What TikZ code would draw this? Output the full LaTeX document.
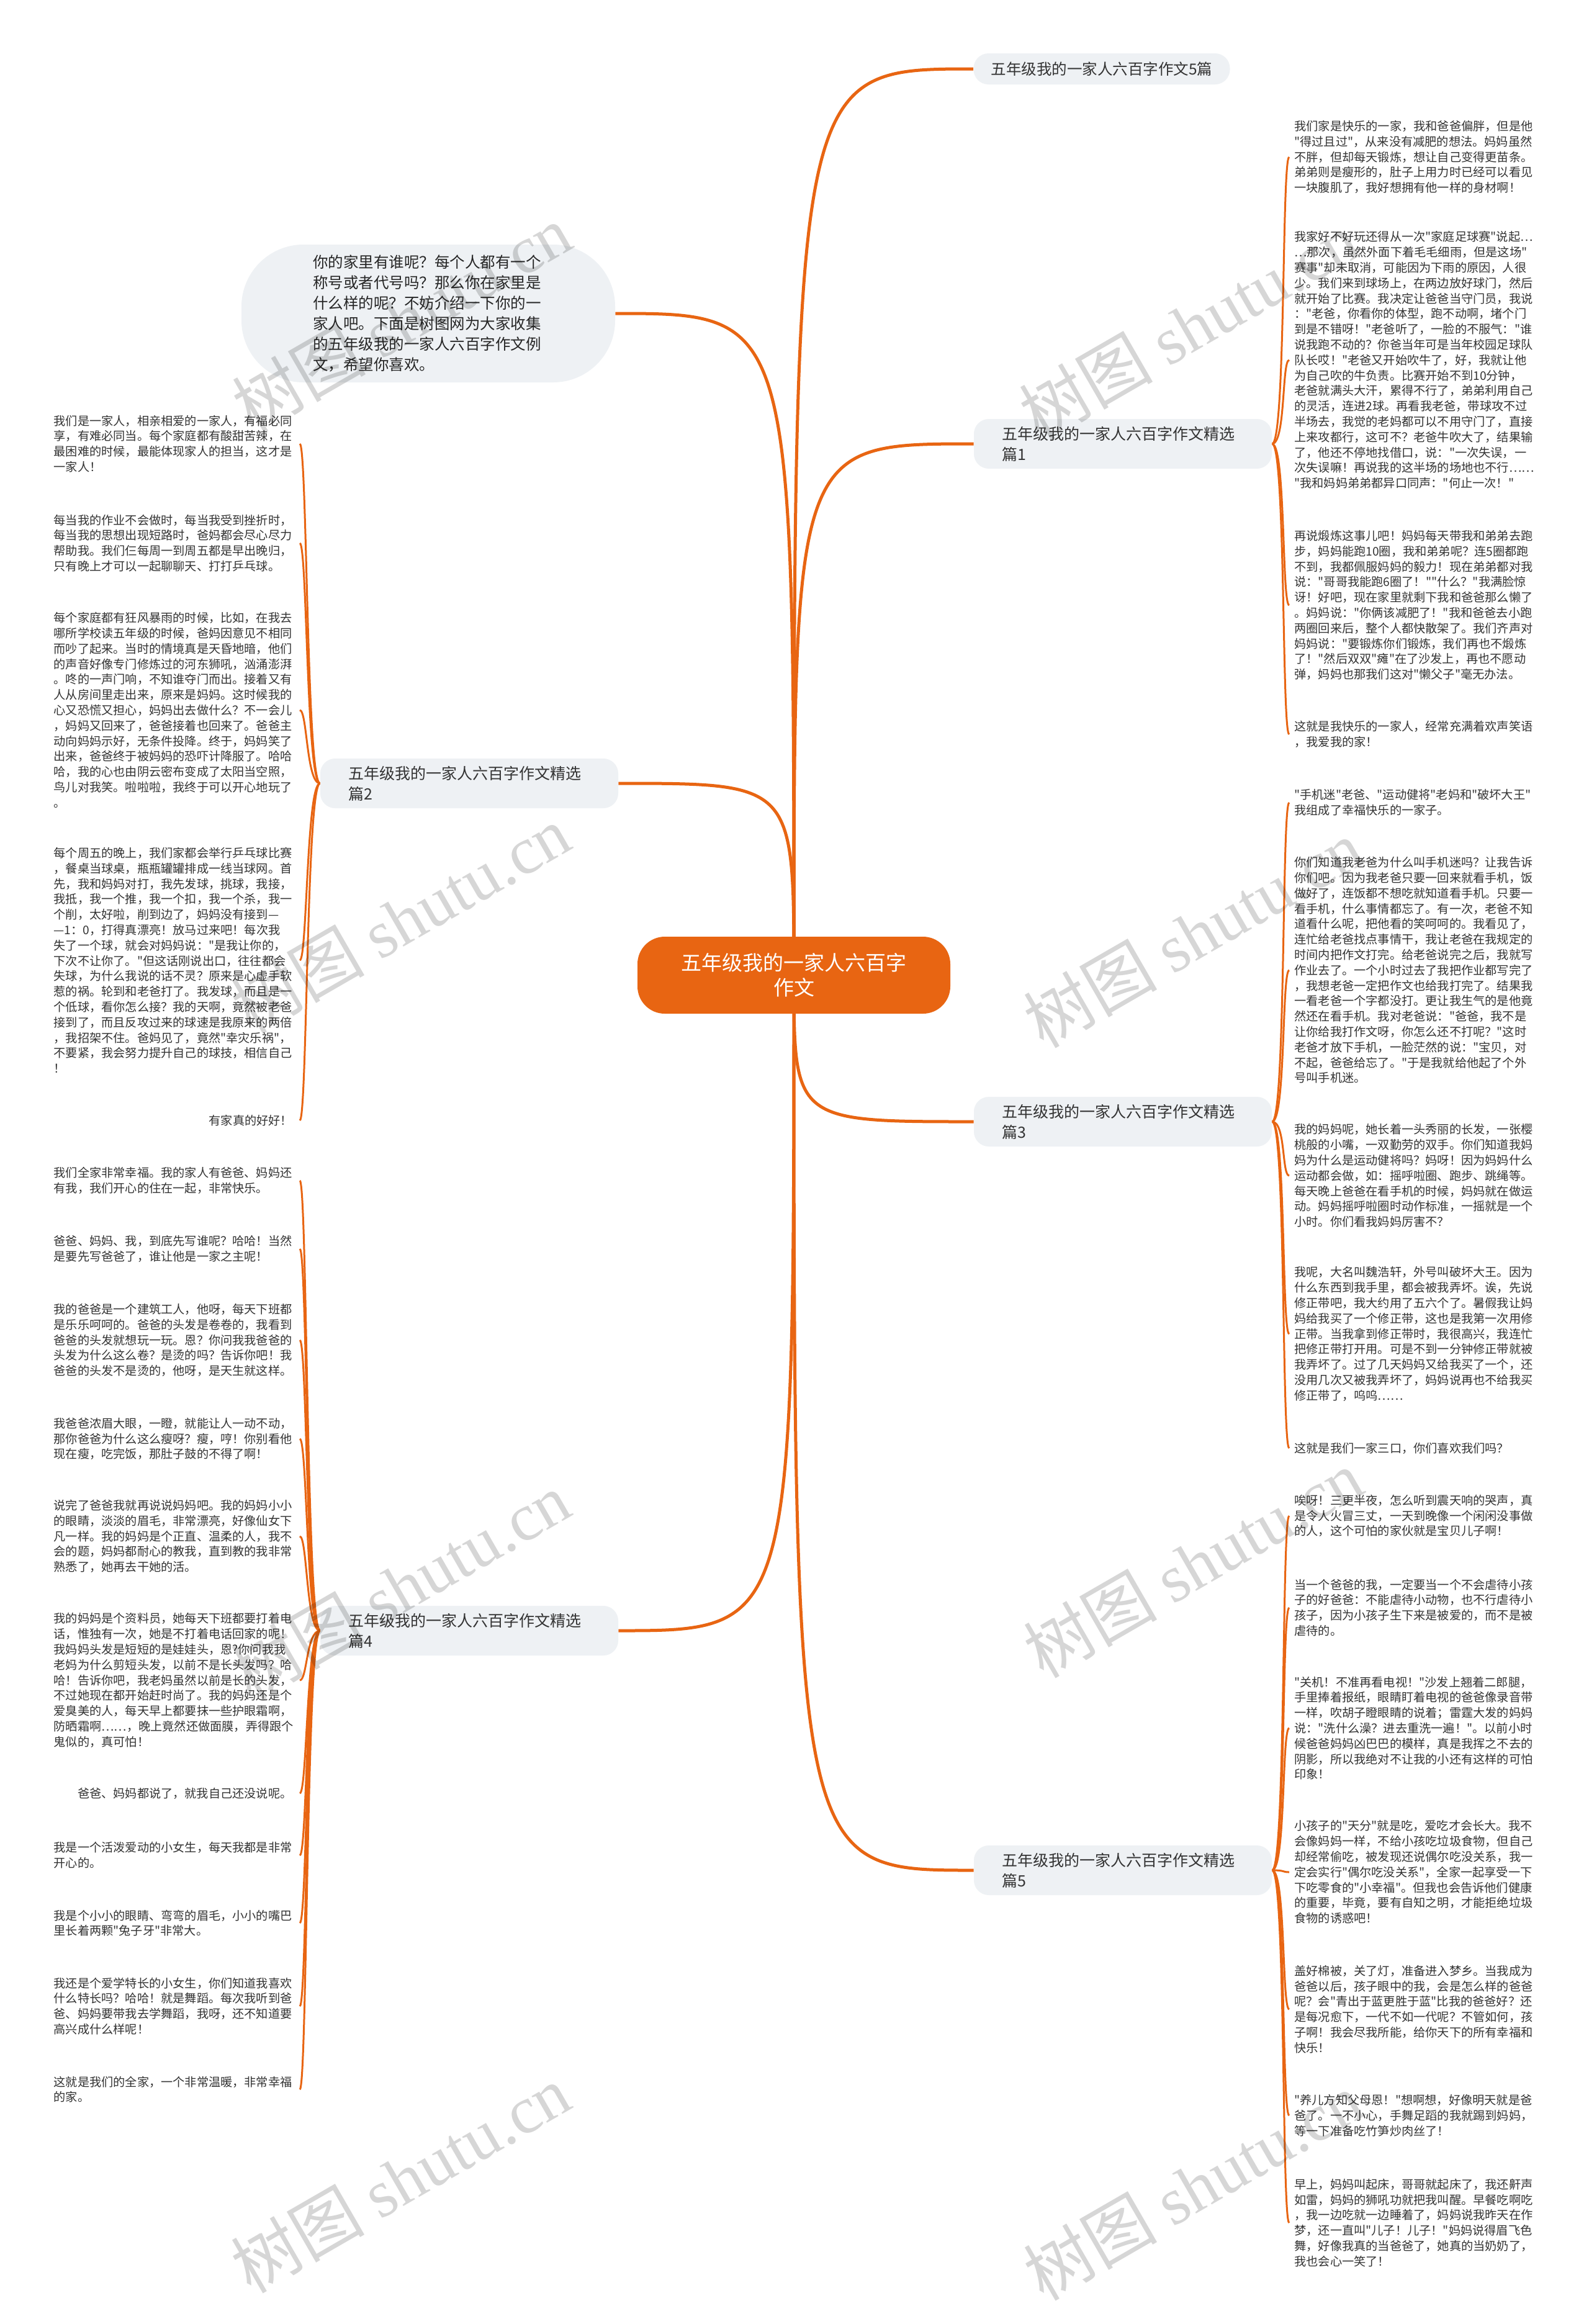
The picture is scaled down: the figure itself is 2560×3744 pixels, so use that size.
\documentclass[tikz,border=0pt]{standalone}
\usepackage{fontspec}
\setmainfont{Noto Sans CJK SC}[Ligatures=TeXOff]
\newfontfamily\wmlatin{Liberation Serif}
\usetikzlibrary{backgrounds}
\definecolor{org}{RGB}{232,101,18}
\definecolor{bub}{HTML}{EEF1F4}
\definecolor{txt}{HTML}{333333}
\tikzset{
  leaf/.style={font=\fontsize{9.6pt}{12.4pt}\selectfont, text=txt, align=left, text width=194pt, inner xsep=4pt, inner ysep=2pt},
  rleaf/.style={leaf, anchor=west},
  lleaf/.style={leaf, anchor=east},
  branch/.style={fill=bub, rounded corners=12pt, font=\fontsize{12.5pt}{16.5pt}\selectfont, text=txt, align=left, text width=195pt, inner xsep=22.5pt, minimum height=40pt},
  branchone/.style={fill=bub, rounded corners=12pt, font=\fontsize{12.25pt}{16pt}\selectfont, text=txt, minimum width=206.5pt, minimum height=25pt, inner xsep=14pt},
  centre/.style={fill=org, text=white, font=\fontsize{16.5pt}{20pt}\selectfont, align=center, minimum width=252pt, minimum height=62pt, rounded corners=22pt},
  bubble/.style={fill=bub, rounded corners=50pt, font=\fontsize{12.25pt}{16.5pt}\selectfont, text=black!85, align=left, text width=186pt, minimum width=301pt, minimum height=111pt},
  mainline/.style={draw=org, line width=2.5pt},
  leafline/.style={draw=org, line width=1.5pt},
  wm/.style={text=black, text opacity=0.16, rotate=30, font=\fontsize{54pt}{60pt}\selectfont, inner sep=0pt}
}
\begin{document}
\begin{tikzpicture}[x=0.5pt,y=-0.5pt]
\useasboundingbox (0,0) rectangle (2560,3744);

% centre and intro
\node[centre] (c) at (1279,1571) {五年级我的一家人六百字\\作文};
\node[bubble] (intro) at (690,505) {你的家里有谁呢？每个人都有一个\\称号或者代号吗？那么你在家里是\\什么样的呢？不妨介绍一下你的一\\家人吧。下面是树图网为大家收集\\的五年级我的一家人六百字作文例\\文，希望你喜欢。};

% branches
\node[branchone] (b0) at (1775,111) {五年级我的一家人六百字作文5篇};
\node[branch] (b1) at (1809,715) {五年级我的一家人六百字作文精选\\篇1};
\node[branch] (b3) at (1809,1807) {五年级我的一家人六百字作文精选\\篇3};
\node[branch] (b5) at (1809,3013) {五年级我的一家人六百字作文精选\\篇5};
\node[branch] (b2) at (756,1262) {五年级我的一家人六百字作文精选\\篇2};
\node[branch] (b4) at (756,2627) {五年级我的一家人六百字作文精选\\篇4};

% leaves of 1
\node[rleaf] (r1a) at (2077,253) {我们家是快乐的一家，我和爸爸偏胖，但是他\\"得过且过"，从来没有减肥的想法。妈妈虽然\\不胖，但却每天锻炼，想让自己变得更苗条。\\弟弟则是瘦形的，肚子上用力时已经可以看见\\一块腹肌了，我好想拥有他一样的身材啊！};
\node[rleaf] (r1b) at (2077,580) {我家好不好玩还得从一次"家庭足球赛"说起…\\…那次，虽然外面下着毛毛细雨，但是这场"\\赛事"却未取消，可能因为下雨的原因，人很\\少。我们来到球场上，在两边放好球门，然后\\就开始了比赛。我决定让爸爸当守门员，我说\\："老爸，你看你的体型，跑不动啊，堵个门\\到是不错呀！"老爸听了，一脸的不服气："谁\\说我跑不动的？你爸当年可是当年校园足球队\\队长哎！"老爸又开始吹牛了，好，我就让他\\为自己吹的牛负责。比赛开始不到10分钟，\\老爸就满头大汗，累得不行了，弟弟利用自己\\的灵活，连进2球。再看我老爸，带球攻不过\\半场去，我觉的老妈都可以不用守门了，直接\\上来攻都行，这可不？老爸牛吹大了，结果输\\了，他还不停地找借口，说："一次失误，一\\次失误嘛！再说我的这半场的场地也不行……\\"我和妈妈弟弟都异口同声："何止一次！"};
\node[rleaf] (r1c) at (2077,975) {再说煅炼这事儿吧！妈妈每天带我和弟弟去跑\\步，妈妈能跑10圈，我和弟弟呢？连5圈都跑\\不到，我都佩服妈妈的毅力！现在弟弟都对我\\说："哥哥我能跑6圈了！""什么？"我满脸惊\\讶！好吧，现在家里就剩下我和爸爸那么懒了\\。妈妈说："你俩该减肥了！"我和爸爸去小跑\\两圈回来后，整个人都快散架了。我们齐声对\\妈妈说："要锻炼你们锻炼，我们再也不煅炼\\了！"然后双双"瘫"在了沙发上，再也不愿动\\弹，妈妈也那我们这对"懒父子"毫无办法。};
\node[rleaf] (r1d) at (2077,1183) {这就是我快乐的一家人，经常充满着欢声笑语\\，我爱我的家！};

% leaves of 3
\node[rleaf] (r3a) at (2077,1293) {"手机迷"老爸、"运动健将"老妈和"破坏大王"\\我组成了幸福快乐的一家子。};
\node[rleaf] (r3b) at (2077,1563) {你们知道我老爸为什么叫手机迷吗？让我告诉\\你们吧。因为我老爸只要一回来就看手机，饭\\做好了，连饭都不想吃就知道看手机。只要一\\看手机，什么事情都忘了。有一次，老爸不知\\道看什么呢，把他看的笑呵呵的。我看见了，\\连忙给老爸找点事情干，我让老爸在我规定的\\时间内把作文打完。给老爸说完之后，我就写\\作业去了。一个小时过去了我把作业都写完了\\，我想老爸一定把作文也给我打完了。结果我\\一看老爸一个字都没打。更让我生气的是他竟\\然还在看手机。我对老爸说："爸爸，我不是\\让你给我打作文呀，你怎么还不打呢？"这时\\老爸才放下手机，一脸茫然的说："宝贝，对\\不起，爸爸给忘了。"于是我就给他起了个外\\号叫手机迷。};
\node[rleaf] (r3c) at (2077,1894) {我的妈妈呢，她长着一头秀丽的长发，一张樱\\桃般的小嘴，一双勤劳的双手。你们知道我妈\\妈为什么是运动健将吗？妈呀！因为妈妈什么\\运动都会做，如：摇呼啦圈、跑步、跳绳等。\\每天晚上爸爸在看手机的时候，妈妈就在做运\\动。妈妈摇呼啦圈时动作标准，一摇就是一个\\小时。你们看我妈妈厉害不？};
\node[rleaf] (r3d) at (2077,2149) {我呢，大名叫魏浩轩，外号叫破坏大王。因为\\什么东西到我手里，都会被我弄坏。诶，先说\\修正带吧，我大约用了五六个了。暑假我让妈\\妈给我买了一个修正带，这也是我第一次用修\\正带。当我拿到修正带时，我很高兴，我连忙\\把修正带打开用。可是不到一分钟修正带就被\\我弄坏了。过了几天妈妈又给我买了一个，还\\没用几次又被我弄坏了，妈妈说再也不给我买\\修正带了，呜呜……};
\node[rleaf] (r3e) at (2077,2333) {这就是我们一家三口，你们喜欢我们吗？};

% leaves of 5
\node[rleaf] (r5a) at (2077,2442) {唉呀！三更半夜，怎么听到震天响的哭声，真\\是令人火冒三丈，一天到晚像一个闲闲没事做\\的人，这个可怕的家伙就是宝贝儿子啊！};
\node[rleaf] (r5b) at (2077,2590) {当一个爸爸的我，一定要当一个不会虐待小孩\\子的好爸爸：不能虐待小动物，也不行虐待小\\孩子，因为小孩子生下来是被爱的，而不是被\\虐待的。};
\node[rleaf] (r5c) at (2077,2784) {"关机！不准再看电视！"沙发上翘着二郎腿，\\手里捧着报纸，眼睛盯着电视的爸爸像录音带\\一样，吹胡子瞪眼睛的说着；雷霆大发的妈妈\\说："洗什么澡？进去重洗一遍！"。以前小时\\候爸爸妈妈凶巴巴的模样，真是我挥之不去的\\阴影，所以我绝对不让我的小还有这样的可怕\\印象！};
\node[rleaf] (r5d) at (2077,3016) {小孩子的"天分"就是吃，爱吃才会长大。我不\\会像妈妈一样，不给小孩吃垃圾食物，但自己\\却经常偷吃，被发现还说偶尔吃没关系，我一\\定会实行"偶尔吃没关系"，全家一起享受一下\\下吃零食的"小幸福"。但我也会告诉他们健康\\的重要，毕竟，要有自知之明，才能拒绝垃圾\\食物的诱惑吧！};
\node[rleaf] (r5e) at (2077,3237) {盖好棉被，关了灯，准备进入梦乡。当我成为\\爸爸以后，孩子眼中的我，会是怎么样的爸爸\\呢？会"青出于蓝更胜于蓝"比我的爸爸好？还\\是每况愈下，一代不如一代呢？不管如何，孩\\子啊！我会尽我所能，给你天下的所有幸福和\\快乐！};
\node[rleaf] (r5f) at (2077,3408) {"养儿方知父母恩！"想啊想，好像明天就是爸\\爸了。一不小心，手舞足蹈的我就踢到妈妈，\\等一下准备吃竹笋炒肉丝了！};
\node[rleaf] (r5g) at (2077,3581) {早上，妈妈叫起床，哥哥就起床了，我还鼾声\\如雷，妈妈的狮吼功就把我叫醒。早餐吃啊吃\\，我一边吃就一边睡着了，妈妈说我昨天在作\\梦，还一直叫"儿子！儿子！"妈妈说得眉飞色\\舞，好像我真的当爸爸了，她真的当奶奶了，\\我也会心一笑了！};

% leaves of 2
\node[lleaf] (l2a) at (483,715) {我们是一家人，相亲相爱的一家人，有福必同\\享，有难必同当。每个家庭都有酸甜苦辣，在\\最困难的时候，最能体现家人的担当，这才是\\一家人！};
\node[lleaf] (l2b) at (483,875) {每当我的作业不会做时，每当我受到挫折时，\\每当我的思想出现短路时，爸妈都会尽心尽力\\帮助我。我们仨每周一到周五都是早出晚归，\\只有晚上才可以一起聊聊天、打打乒乓球。};
\node[lleaf] (l2c) at (483,1144) {每个家庭都有狂风暴雨的时候，比如，在我去\\哪所学校读五年级的时候，爸妈因意见不相同\\而吵了起来。当时的情境真是天昏地暗，他们\\的声音好像专门修炼过的河东狮吼，汹涌澎湃\\。咚的一声门响，不知谁夺门而出。接着又有\\人从房间里走出来，原来是妈妈。这时候我的\\心又恐慌又担心，妈妈出去做什么？不一会儿\\，妈妈又回来了，爸爸接着也回来了。爸爸主\\动向妈妈示好，无条件投降。终于，妈妈笑了\\出来，爸爸终于被妈妈的恐吓计降服了。哈哈\\哈，我的心也由阴云密布变成了太阳当空照，\\鸟儿对我笑。啦啦啦，我终于可以开心地玩了\\。};
\node[lleaf] (l2d) at (483,1547) {每个周五的晚上，我们家都会举行乒乓球比赛\\，餐桌当球桌，瓶瓶罐罐排成一线当球网。首\\先，我和妈妈对打，我先发球，挑球，我接，\\我抵，我一个推，我一个扣，我一个杀，我一\\个削，太好啦，削到边了，妈妈没有接到—\\—1：0，打得真漂亮！放马过来吧！每次我\\失了一个球，就会对妈妈说："是我让你的，\\下次不让你了。"但这话刚说出口，往往都会\\失球，为什么我说的话不灵？原来是心虚手软\\惹的祸。轮到和老爸打了。我发球，而且是一\\个低球，看你怎么接？我的天啊，竟然被老爸\\接到了，而且反攻过来的球速是我原来的两倍\\，我招架不住。爸妈见了，竟然"幸灾乐祸"，\\不要紧，我会努力提升自己的球技，相信自己\\！};
\node[lleaf] (l2e) at (483,1805) {\hspace*{125pt}有家真的好好！};

% leaves of 4
\node[lleaf] (l4a) at (483,1902) {我们全家非常幸福。我的家人有爸爸、妈妈还\\有我，我们开心的住在一起，非常快乐。};
\node[lleaf] (l4b) at (483,2012) {爸爸、妈妈、我，到底先写谁呢？哈哈！当然\\是要先写爸爸了，谁让他是一家之主呢！};
\node[lleaf] (l4c) at (483,2159) {我的爸爸是一个建筑工人，他呀，每天下班都\\是乐乐呵呵的。爸爸的头发是卷卷的，我看到\\爸爸的头发就想玩一玩。恩？你问我我爸爸的\\头发为什么这么卷？是烫的吗？告诉你吧！我\\爸爸的头发不是烫的，他呀，是天生就这样。};
\node[lleaf] (l4d) at (483,2318) {我爸爸浓眉大眼，一瞪，就能让人一动不动，\\那你爸爸为什么这么瘦呀？瘦，哼！你别看他\\现在瘦，吃完饭，那肚子鼓的不得了啊！};
\node[lleaf] (l4e) at (483,2475) {说完了爸爸我就再说说妈妈吧。我的妈妈小小\\的眼睛，淡淡的眉毛，非常漂亮，好像仙女下\\凡一样。我的妈妈是个正直、温柔的人，我不\\会的题，妈妈都耐心的教我，直到教的我非常\\熟悉了，她再去干她的活。};
\node[lleaf] (l4f) at (483,2707) {我的妈妈是个资料员，她每天下班都要打着电\\话，惟独有一次，她是不打着电话回家的呢！\\我妈妈头发是短短的是娃娃头，恩?你问我我\\老妈为什么剪短头发，以前不是长头发吗？哈\\哈！告诉你吧，我老妈虽然以前是长的头发，\\不过她现在都开始赶时尚了。我的妈妈还是个\\爱臭美的人，每天早上都要抹一些护眼霜啊，\\防晒霜啊……，晚上竟然还做面膜，弄得跟个\\鬼似的，真可怕！};
\node[lleaf] (l4g) at (483,2889) {\hspace*{19.2pt}爸爸、妈妈都说了，就我自己还没说呢。};
\node[lleaf] (l4h) at (483,2989) {我是一个活泼爱动的小女生，每天我都是非常\\开心的。};
\node[lleaf] (l4i) at (483,3098) {我是个小小的眼睛、弯弯的眉毛，小小的嘴巴\\里长着两颗"兔子牙"非常大。};
\node[lleaf] (l4j) at (483,3232) {我还是个爱学特长的小女生，你们知道我喜欢\\什么特长吗？哈哈！就是舞蹈。每次我听到爸\\爸、妈妈要带我去学舞蹈，我呀，还不知道要\\高兴成什么样呢！};
\node[lleaf] (l4k) at (483,3366) {这就是我们的全家，一个非常温暖，非常幸福\\的家。};

% connectors
\begin{scope}[on background layer]
  \fill[white] (0,0) rectangle (2560,3744);
  \draw[mainline] (c.center) .. controls (c.center |- b0.west) and (c.center |- b0.west) .. (b0.west);
  \draw[mainline] (c.center) .. controls (c.center |- b1.west) and (c.center |- b1.west) .. (b1.west);
  \draw[mainline] (c.center) .. controls (c.center |- b3.west) and (c.center |- b3.west) .. (b3.west);
  \draw[mainline] (c.center) .. controls (c.center |- b5.west) and (c.center |- b5.west) .. (b5.west);
  \draw[mainline] (c.center) .. controls (c.center |- intro.east) and (c.center |- intro.east) .. (intro.east);
  \draw[mainline] (c.center) .. controls (c.center |- b2.east) and (c.center |- b2.east) .. (b2.east);
  \draw[mainline] (c.center) .. controls (c.center |- b4.east) and (c.center |- b4.east) .. (b4.east);
  \foreach \l in {r1a,r1b,r1c,r1d}
    \draw[leafline] (b1.east) .. controls +(22,0) and +(-12,0) .. (\l.west);
  \foreach \l in {r3a,r3b,r3c,r3d,r3e}
    \draw[leafline] (b3.east) .. controls +(22,0) and +(-12,0) .. (\l.west);
  \foreach \l in {r5a,r5b,r5c,r5d,r5e,r5f,r5g}
    \draw[leafline] (b5.east) .. controls +(22,0) and +(-12,0) .. (\l.west);
  \foreach \l in {l2a,l2b,l2c,l2d,l2e}
    \draw[leafline] (b2.west) .. controls +(-22,0) and +(12,0) .. (\l.east);
  \foreach \l in {l4a,l4b,l4c,l4d,l4e,l4f,l4g,l4h,l4i,l4j,l4k}
    \draw[leafline] (b4.west) .. controls +(-22,0) and +(12,0) .. (\l.east);
\end{scope}

% watermarks
\foreach \wx/\wy [count=\i] in {647/513, 1915/525, 645/1481, 1922/1504, 645/2555, 1922/2519, 645/3510, 1922/3522}
  \node[wm] (wm\i) at (\wx,\wy) {树图 {\wmlatin shutu.cn}};
\end{tikzpicture}
\end{document}
